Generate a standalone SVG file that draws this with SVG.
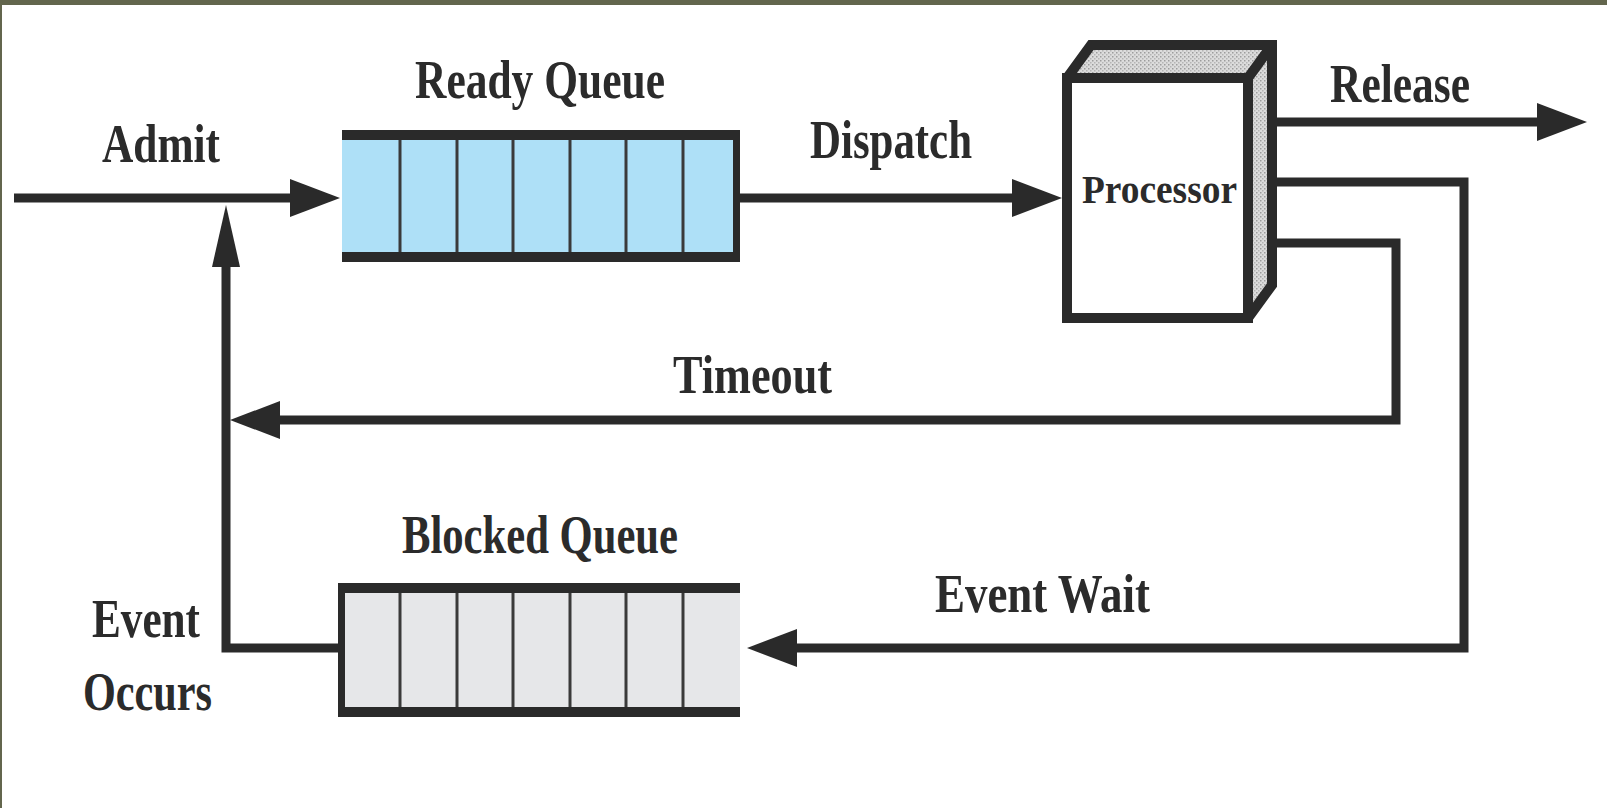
<svg xmlns="http://www.w3.org/2000/svg" width="1607" height="808" viewBox="0 0 1607 808">
  <style>
    .wire { fill: none; stroke: #2a2a2a; stroke-width: 9; stroke-linejoin: miter; stroke-linecap: butt; }
    .bar { fill: #2a2a2a; }
    .cell { stroke: #3a3a3a; stroke-width: 3; }
    .label { font-family: "Liberation Serif", "Times New Roman", serif; font-weight: bold; font-size: 54px; fill: #2b2b2b; }
    .proc-label { font-family: "Liberation Serif", "Times New Roman", serif; font-weight: bold; font-size: 40px; fill: #2b2b2b; }
    .edge { fill: none; stroke: #2a2a2a; stroke-width: 10; stroke-linejoin: miter; }
  </style>
  <defs>
    <!-- speckled grey used on the top and side faces of the processor box -->
    <pattern id="stipple" width="4" height="4" patternUnits="userSpaceOnUse">
      <rect width="4" height="4" fill="#dcdcdc"/>
      <rect x="0" y="0" width="1.5" height="1.5" fill="#9c9c9c"/>
      <rect x="2" y="2" width="1.5" height="1.5" fill="#b5b5b5"/>
    </pattern>
    <marker id="arrow" markerUnits="userSpaceOnUse" viewBox="0 -20 50 40" refX="0" refY="0" markerWidth="50" markerHeight="40" orient="auto" overflow="visible">
      <path d="M0,-19 L50,0 L0,19 Z" fill="#2a2a2a"/>
    </marker>
    <marker id="arrow-narrow" markerUnits="userSpaceOnUse" viewBox="0 -15 62 30" refX="0" refY="0" markerWidth="62" markerHeight="30" orient="auto" overflow="visible">
      <path d="M0,-14 L62,0 L0,14 Z" fill="#2a2a2a"/>
    </marker>
  </defs>

  <!-- page background and frame -->
  <rect width="1607" height="808" fill="#ffffff"/>
  <rect x="0" y="0" width="1607" height="5" fill="#63664d"/>
  <rect x="0" y="0" width="2" height="808" fill="#63664d"/>

  <!-- connectors -->
  <g id="connectors">
    <path class="wire" d="M14,198 H290" marker-end="url(#arrow)"/>
    <path class="wire" d="M740,198 H1012" marker-end="url(#arrow)"/>
    <path class="wire" d="M1253,122 H1537" marker-end="url(#arrow)"/>
    <path class="wire" d="M1253,243 H1396 V420 H280" marker-end="url(#arrow)"/>
    <path class="wire" d="M1253,182 H1464 V648 H797" marker-end="url(#arrow)"/>
    <path class="wire" d="M339,648 H226 V267" marker-end="url(#arrow-narrow)"/>
  </g>

  <!-- ready queue -->
  <g id="ready-queue">
    <rect x="342" y="140" width="393" height="112" fill="#aee0f7"/>
    <rect class="bar" x="342" y="130" width="398" height="10"/>
    <rect class="bar" x="342" y="252" width="398" height="10"/>
    <rect class="bar" x="733" y="130" width="7" height="132"/>
    <g class="cell">
      <line x1="400" y1="140" x2="400" y2="252"/>
      <line x1="457" y1="140" x2="457" y2="252"/>
      <line x1="513" y1="140" x2="513" y2="252"/>
      <line x1="570" y1="140" x2="570" y2="252"/>
      <line x1="626" y1="140" x2="626" y2="252"/>
      <line x1="683" y1="140" x2="683" y2="252"/>
    </g>
    <text class="label" x="415" y="98" textLength="250" lengthAdjust="spacingAndGlyphs">Ready Queue</text>
  </g>

  <!-- blocked queue -->
  <g id="blocked-queue">
    <rect x="345" y="593" width="395" height="114" fill="#e6e7e9"/>
    <rect class="bar" x="338" y="583" width="402" height="10"/>
    <rect class="bar" x="338" y="707" width="402" height="10"/>
    <rect class="bar" x="338" y="583" width="7" height="134"/>
    <g class="cell">
      <line x1="400" y1="593" x2="400" y2="707"/>
      <line x1="457" y1="593" x2="457" y2="707"/>
      <line x1="513" y1="593" x2="513" y2="707"/>
      <line x1="570" y1="593" x2="570" y2="707"/>
      <line x1="626" y1="593" x2="626" y2="707"/>
      <line x1="683" y1="593" x2="683" y2="707"/>
    </g>
    <text class="label" x="402" y="553" textLength="276" lengthAdjust="spacingAndGlyphs">Blocked Queue</text>
  </g>

  <!-- processor drawn as a box with depth -->
  <g id="processor">
    <polygon points="1067,78 1091,45 1272,45 1248,78" fill="url(#stipple)"/>
    <polygon points="1248,78 1272,45 1272,285 1248,318" fill="url(#stipple)"/>
    <rect x="1067" y="78" width="181" height="240" fill="#ffffff"/>
    <path class="edge" d="M1067,78 L1091,45 H1272 V285 L1248,318 M1248,78 L1272,45"/>
    <rect class="edge" x="1067" y="78" width="181" height="240"/>
    <text class="proc-label" x="1082" y="203" textLength="155" lengthAdjust="spacingAndGlyphs">Processor</text>
  </g>

  <!-- connector labels -->
  <g id="labels">
    <text class="label" x="102" y="162" textLength="118" lengthAdjust="spacingAndGlyphs">Admit</text>
    <text class="label" x="810" y="158" textLength="162" lengthAdjust="spacingAndGlyphs">Dispatch</text>
    <text class="label" x="1330" y="102" textLength="140" lengthAdjust="spacingAndGlyphs">Release</text>
    <text class="label" x="673" y="393" textLength="159" lengthAdjust="spacingAndGlyphs">Timeout</text>
    <text class="label" x="935" y="612" textLength="215" lengthAdjust="spacingAndGlyphs">Event Wait</text>
    <text class="label" x="92" y="637" textLength="108" lengthAdjust="spacingAndGlyphs">Event</text>
    <text class="label" x="83" y="710" textLength="129" lengthAdjust="spacingAndGlyphs">Occurs</text>
  </g>
</svg>
